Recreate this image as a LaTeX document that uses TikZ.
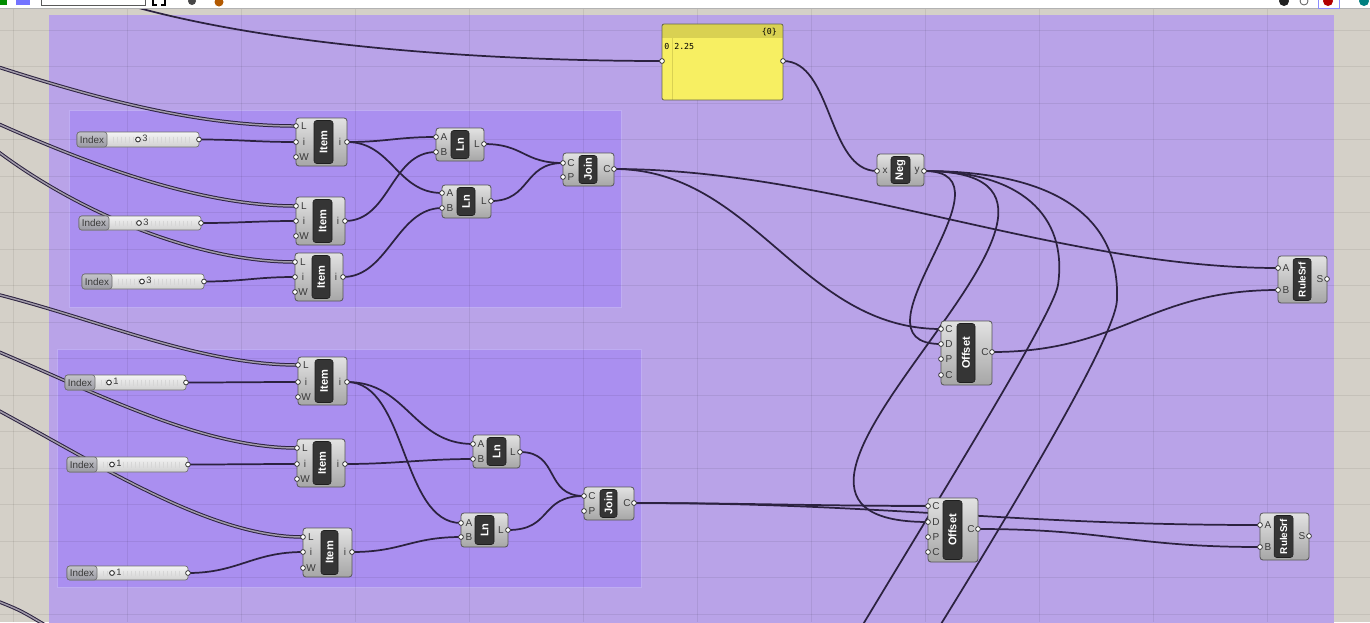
\documentclass[tikz,border=0pt]{standalone}
\usepackage{fontspec}
\setmainfont{Liberation Sans}
\setmonofont{DejaVu Sans Mono}
\usetikzlibrary{fit,calc}
\definecolor{canvas}{HTML}{D4D0C8}
\definecolor{grpouter}{HTML}{B9A3E8}
\definecolor{grpinner}{HTML}{AA8FF0}
\definecolor{grpline}{HTML}{BFADF2}
\definecolor{wirec}{HTML}{2C2240}
\definecolor{dwirein}{HTML}{A29CAA}
\definecolor{boxtop}{HTML}{E2E2E2}
\definecolor{boxbot}{HTML}{A6A6A6}
\definecolor{boxdraw}{HTML}{555555}
\definecolor{pillc}{HTML}{353535}
\definecolor{pilldraw}{HTML}{1E1E1E}
\definecolor{portdraw}{HTML}{333333}
\definecolor{labtext}{HTML}{3A3A3A}
\definecolor{sltop}{HTML}{F4F4F4}
\definecolor{slbot}{HTML}{D0D0D0}
\definecolor{sldraw}{HTML}{707070}
\definecolor{idxtop}{HTML}{C4C4CA}
\definecolor{idxbot}{HTML}{9A9AA2}
\definecolor{tickc}{HTML}{D6D6D6}
\definecolor{panely}{HTML}{F7EF62}
\definecolor{panelhead}{HTML}{D9D152}
\definecolor{paneldraw}{HTML}{66664E}
\pgfdeclarelayer{bg}
\pgfdeclarelayer{wires}
\pgfsetlayers{bg,wires,main}
\tikzset{
  gbox/.style={draw=boxdraw, line width=0.6pt, rounded corners=2.2pt, top color=boxtop, bottom color=boxbot, inner sep=0pt},
  gpill/.style={draw=pilldraw, line width=0.4pt, rounded corners=2pt, fill=pillc, inner sep=0pt},
  gtitle/.style={rotate=90, text=white, font=\fontsize{8.3}{9}\selectfont\bfseries, inner sep=0pt},
  gport/.style={circle, draw=portdraw, fill=white, line width=0.55pt, minimum size=3.6pt, inner sep=0pt},
  plab/.style={font=\fontsize{7.5}{8}\selectfont, text=labtext, inner sep=0pt},
  wire/.style={draw=wirec, line width=1.3pt},
  dwire/.style={draw=wirec, line width=0.75pt, double=dwirein, double distance=1.1pt},
  sbody/.style={draw=sldraw, line width=0.5pt, rounded corners=2pt, top color=sltop, bottom color=slbot, inner sep=0pt},
  sidx/.style={draw=sldraw, line width=0.5pt, rounded corners=2pt, top color=idxtop, bottom color=idxbot, inner sep=0pt},
  stext/.style={font=\fontsize{7.4}{8}\selectfont, text=labtext, inner sep=0pt},
  smark/.style={circle, draw=portdraw, fill=white, line width=0.7pt, minimum size=3.6pt, inner sep=0pt},
  sval/.style={font=\fontsize{7}{8}\selectfont, text=labtext, inner sep=0pt},
  grp/.style={inner sep=0pt},
  gridl/.style={draw=black, opacity=0.07, line width=0.5pt}
}
\newcommand\ghcomp[9][]{%
  \node[gbox, fit={(#3,#4)(#5,#6)}] (#2) {};
  \node[gpill, fit={(#7,#4+2.5)(#8,#6-2.5)}] (#2p) {};
  \node[gtitle,#1] (#2t) at (#2p.center) {#9};
}
\newcommand\ghin[4]{%
  \node[gport] (#1) at (#2,#3) {};
  \node[plab] (#1l) at (#2+8,#3) {#4};
}
\newcommand\ghout[4]{%
  \node[gport] (#1) at (#2,#3) {};
  \node[plab] (#1l) at (#2-7,#3) {#4};
}
\newcommand\ghslider[7]{%
  \node[sbody, fit={(#2,#3)(#4,#5)}] (#1) {};
  \foreach \tk in {36,40,...,112} {\draw[tickc, line width=0.35pt] (#2+\tk,#3+4.5) -- (#2+\tk,#5-4.5);}
  \node[sidx, fit={(#2,#3)(#2+30,#5)}] (#1i) {};
  \node[stext] (#1it) at (#1i.center) {Index};
  \node[smark] (#1m) at (#6,{(#3+#5)/2}) {};
  \node[sval, anchor=west] (#1v) at (#6+4,{(#3+#5)/2-1}) {#7};
  \node[gport] (#1o) at (#4,{(#3+#5)/2}) {};
}
\newcommand\ghwire[3]{\draw[wire] (#1.center) .. controls +(#3,0) and +(-#3,0) .. (#2.center);}
\begin{document}
\begin{tikzpicture}[x=0.75pt,y=-0.75pt]
\useasboundingbox (0,0) rectangle (1370,622);
\clip (0,0) rectangle (1370,622);

\begin{pgfonlayer}{bg}
  \clip (0,0) rectangle (1370,622);
  \fill[canvas] (0,0) rectangle (1370,622);
  \node[grp, fill=grpouter, fit={(49,15)(1334,640)}] (gouter) {};
  \node[grp, fill=grpinner, draw=grpline, line width=0.6pt, fit={(69,110)(621,307)}] (ginner1) {};
  \node[grp, fill=grpinner, draw=grpline, line width=0.6pt, fit={(57,349)(641,587)}] (ginner2) {};
  \foreach \gx in {13,127,...,1381} {\draw[gridl] (\gx,9) -- (\gx,622);}
  \foreach \gy in {30,66.5,...,622} {\draw[gridl] (0,\gy) -- (1370,\gy);}
\end{pgfonlayer}

% ---------- panel ----------
\node[grp, fill=panely, fit={(662,24)(783,100)}] (panel) {};
\node[grp, fill=panelhead, fit={(662,24)(783,38)}] (panelh) {};
\draw[panelhead, line width=0.6pt] (672,38) -- (672,100);
\node[grp, draw=paneldraw, line width=0.6pt, rounded corners=1.5pt, fit={(662,24)(783,100)}] (panelb) {};
\node[font=\ttfamily\fontsize{6.2}{7}\selectfont, inner sep=0pt, anchor=east] (panelidx) at (777,32) {\{0\}};
\node[font=\ttfamily\fontsize{6.2}{7}\selectfont, inner sep=0pt, anchor=west] (panel0) at (664,46) {0};
\node[font=\ttfamily\fontsize{6.2}{7}\selectfont, inner sep=0pt, anchor=west] (panelv) at (674,46) {2.25};
\node[gport] (panel-in) at (662,61) {};
\node[gport] (panel-out) at (783,61) {};

% ---------- top group ----------
\ghslider{s1}{77}{132}{199}{147}{138}{3}
\ghslider{s2}{79}{216}{201}{230}{139}{3}
\ghslider{s3}{82}{274}{204}{289}{142}{3}

\ghcomp{item1}{296}{118}{347}{166}{314}{333}{Item}
\ghin{item1-L}{296}{126}{L}\ghin{item1-i}{296}{142}{i}\ghin{item1-W}{296}{157}{W}\ghout{item1-o}{347}{142}{i}
\ghcomp{item2}{296}{197}{345}{245}{313}{332}{Item}
\ghin{item2-L}{296}{206}{L}\ghin{item2-i}{296}{221}{i}\ghin{item2-W}{296}{236}{W}\ghout{item2-o}{345}{221}{i}
\ghcomp{item3}{295}{253}{343}{301}{312}{330}{Item}
\ghin{item3-L}{295}{262}{L}\ghin{item3-i}{295}{277}{i}\ghin{item3-W}{295}{292}{W}\ghout{item3-o}{343}{277}{i}

\ghcomp{ln1}{436}{128}{484}{161}{451}{469}{Ln}
\ghin{ln1-A}{436}{137}{A}\ghin{ln1-B}{436}{152}{B}\ghout{ln1-o}{484}{144}{L}
\ghcomp{ln2}{442}{185}{491}{218}{457}{475}{Ln}
\ghin{ln2-A}{442}{193}{A}\ghin{ln2-B}{442}{208}{B}\ghout{ln2-o}{491}{201}{L}
\ghcomp{join1}{563}{153}{614}{186}{579}{597}{Join}
\ghin{join1-C}{563}{163}{C}\ghin{join1-P}{563}{177}{P}\ghout{join1-o}{614}{169}{C}

% ---------- bottom group ----------
\ghslider{s4}{65}{375}{186}{390}{109}{1}
\ghslider{s5}{67}{457}{188}{472}{112}{1}
\ghslider{s6}{67}{566}{188}{580}{112}{1}

\ghcomp{item4}{298}{357}{347}{405}{315}{333}{Item}
\ghin{item4-L}{298}{365}{L}\ghin{item4-i}{298}{382}{i}\ghin{item4-W}{298}{397}{W}\ghout{item4-o}{347}{382}{i}
\ghcomp{item5}{297}{439}{345}{487}{313}{331}{Item}
\ghin{item5-L}{297}{448}{L}\ghin{item5-i}{297}{464}{i}\ghin{item5-W}{297}{479}{W}\ghout{item5-o}{345}{464}{i}
\ghcomp{item6}{303}{528}{352}{577}{321}{338}{Item}
\ghin{item6-L}{303}{537}{L}\ghin{item6-i}{303}{552}{i}\ghin{item6-W}{303}{568}{W}\ghout{item6-o}{352}{552}{i}

\ghcomp{ln3}{473}{435}{520}{468}{487}{506}{Ln}
\ghin{ln3-A}{473}{444}{A}\ghin{ln3-B}{473}{459}{B}\ghout{ln3-o}{520}{452}{L}
\ghcomp{ln4}{461}{513}{508}{547}{475}{494}{Ln}
\ghin{ln4-A}{461}{523}{A}\ghin{ln4-B}{461}{537}{B}\ghout{ln4-o}{508}{530}{L}
\ghcomp{join2}{584}{487}{634}{520}{600}{617}{Join}
\ghin{join2-C}{584}{496}{C}\ghin{join2-P}{584}{511}{P}\ghout{join2-o}{634}{503}{C}

% ---------- right part ----------
\ghcomp{neg}{877}{154}{924}{186}{891}{910}{Neg}
\ghin{neg-x}{877}{171}{x}\ghout{neg-y}{924}{171}{y}
\ghcomp{off1}{941}{321}{992}{385}{957}{975}{Offset}
\ghin{off1-C}{941}{329}{C}\ghin{off1-D}{941}{344}{D}\ghin{off1-P}{941}{359}{P}\ghin{off1-C2}{941}{375}{C}\ghout{off1-o}{992}{352}{C}
\ghcomp[font=\fontsize{7.4}{8}\selectfont\bfseries]{rule1}{1278}{256}{1327}{303}{1293}{1311}{RuleSrf}
\ghin{rule1-A}{1278}{268}{A}\ghin{rule1-B}{1278}{290}{B}\ghout{rule1-o}{1327}{279}{S}
\ghcomp{off2}{928}{498}{978}{562}{943}{962}{Offset}
\ghin{off2-C}{928}{506}{C}\ghin{off2-D}{928}{522}{D}\ghin{off2-P}{928}{537}{P}\ghin{off2-C2}{928}{552}{C}\ghout{off2-o}{978}{529}{C}
\ghcomp[font=\fontsize{7.4}{8}\selectfont\bfseries]{rule2}{1260}{513}{1309}{560}{1274}{1293}{RuleSrf}
\ghin{rule2-A}{1260}{525}{A}\ghin{rule2-B}{1260}{547}{B}\ghout{rule2-o}{1309}{536}{S}

% ---------- toolbar (on top of wires) ----------
\fill[white] (0,0) rectangle (1370,8.5);
\draw[gray!60, line width=0.5pt] (0,8.5) -- (1370,8.5);
\fill[green!55!black] (-2,-4) rectangle (7,5);
\fill[blue!55!white] (16,-4) rectangle (30,5);
\draw[gray!70!black, fill=white, line width=0.6pt] (41,-6) rectangle (145,5.5);
\draw[black, line width=1.4pt] (153,-2) -- (153,5) -- (157,5);
\draw[black, line width=1.4pt] (161,5) -- (165,5) -- (165,-2);
\fill[gray!55!black] (192,1) circle (4);
\fill[orange!70!black] (219,2) circle (4.5);
\fill[gray!25!black] (1284,1) circle (5);
\draw[gray!70!black, line width=0.6pt] (1304,1) circle (4);
\draw[blue!45, line width=0.6pt] (1318,-6) rectangle (1339,8);
\fill[red!70!black] (1328,1) circle (5);
\fill[teal] (1364,1) circle (5);

% free ends of wires
\coordinate (srcTop) at (105,-2);
\coordinate (srcA) at (-8,65);
\coordinate (srcB) at (-8,121);
\coordinate (srcC) at (-8,147);
\coordinate (srcD) at (-8,293);
\coordinate (srcE) at (-8,349);
\coordinate (srcF) at (-8,407);
\coordinate (srcG) at (-8,599);
\coordinate (endG) at (50,628);
\coordinate (endC3) at (830,680);
\coordinate (endC4) at (900,690);

\begin{pgfonlayer}{wires}
  \clip (0,0) rectangle (1370,622);
  % list wires from the left
  \draw[dwire] (srcA) .. controls (100,100) and (200,126) .. (item1-L.center);
  \draw[dwire] (srcB) .. controls (90,165) and (200,206) .. (item2-L.center);
  \draw[dwire] (srcC) .. controls (80,215) and (200,262) .. (item3-L.center);
  \draw[dwire] (srcD) .. controls (100,320) and (200,365) .. (item4-L.center);
  \draw[dwire] (srcE) .. controls (90,390) and (200,448) .. (item5-L.center);
  \draw[dwire] (srcF) .. controls (100,465) and (210,537) .. (item6-L.center);
  \draw[dwire] (srcG) .. controls (20,610) .. (endG);
  \draw[wire] (srcTop) .. controls (250,45) and (480,61) .. (panel-in.center);
  % top group
  \ghwire{s1o}{item1-i}{40}
  \ghwire{s2o}{item2-i}{40}
  \ghwire{s3o}{item3-i}{40}
  \ghwire{item1-o}{ln1-A}{40}
  \ghwire{item1-o}{ln2-A}{45}
  \ghwire{item2-o}{ln1-B}{45}
  \ghwire{item3-o}{ln2-B}{45}
  \ghwire{ln1-o}{join1-C}{40}
  \ghwire{ln2-o}{join1-C}{40}
  % bottom group
  \ghwire{s4o}{item4-i}{40}
  \ghwire{s5o}{item5-i}{40}
  \ghwire{s6o}{item6-i}{50}
  \ghwire{item4-o}{ln3-A}{60}
  \ghwire{item4-o}{ln4-A}{60}
  \ghwire{item5-o}{ln3-B}{50}
  \ghwire{item6-o}{ln4-B}{50}
  \ghwire{ln3-o}{join2-C}{40}
  \ghwire{ln4-o}{join2-C}{45}
  % right part
  \ghwire{panel-out}{neg-x}{50}
  \ghwire{neg-y}{off1-D}{100}
  \ghwire{neg-y}{off2-D}{256}
  \draw[wire] (neg-y.center) .. controls (1020,171) and (1068,215) .. (1058,285) .. controls (1052,320) and (900,560) .. (endC3);
  \draw[wire] (neg-y.center) .. controls (1060,171) and (1120,220) .. (1117,300) .. controls (1115,340) and (1000,530) .. (endC4);
  \ghwire{join1-o}{off1-C}{140}
  \ghwire{join1-o}{rule1-A}{220}
  \ghwire{off1-o}{rule1-B}{130}
  \ghwire{join2-o}{off2-C}{100}
  \ghwire{join2-o}{rule2-A}{250}
  \ghwire{off2-o}{rule2-B}{130}
\end{pgfonlayer}
\end{tikzpicture}
\end{document}
